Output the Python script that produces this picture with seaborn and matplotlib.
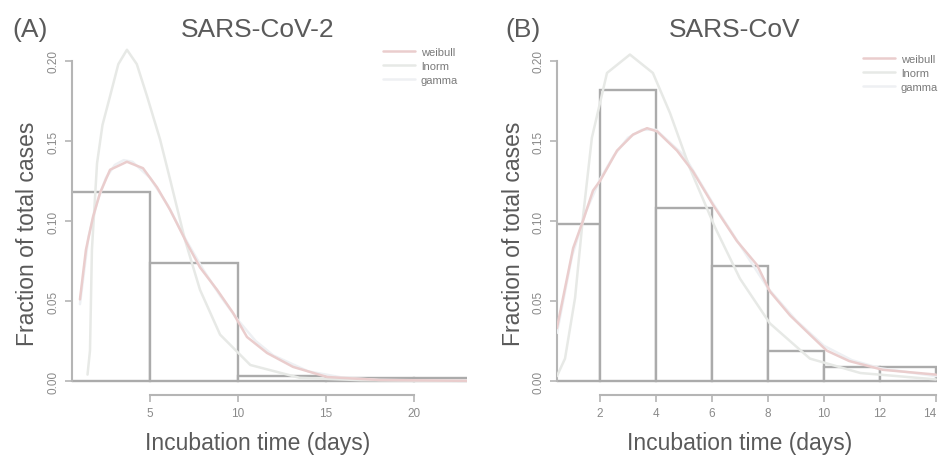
import matplotlib
matplotlib.use("Agg")
import matplotlib.pyplot as plt
from matplotlib.lines import Line2D
import matplotlib.transforms as mtransforms
import seaborn as sns

# ---------------- data ----------------
# Panel A (SARS-CoV-2): histogram (density, bin width 5 days)
a_edges = [0, 5, 10, 15, 20, 25]
a_heights = [0.118, 0.074, 0.003, 0.002, 0.002]
# fitted curves (days, density)
a_weibull_x = [1.02, 1.36, 1.76, 2.16, 2.73, 3.69, 4.60, 5.40, 6.14, 7.10, 7.84, 8.81, 9.72, 10.51, 11.65, 13.13, 15.06, 18.07, 23.0]
a_weibull_y = [0.051, 0.082, 0.1025, 0.1175, 0.132, 0.137, 0.133, 0.121, 0.107, 0.086, 0.071, 0.057, 0.0425, 0.0275, 0.0175, 0.0088, 0.0025, 0.0006, 0.0001]
a_lnorm_x = [1.45, 1.59, 1.70, 1.99, 2.30, 2.73, 3.20, 3.69, 4.25, 4.83, 5.57, 6.14, 6.99, 7.84, 8.98, 10.7, 13.5, 17.0, 23.0]
a_lnorm_y = [0.004, 0.019, 0.082, 0.136, 0.160, 0.178, 0.198, 0.207, 0.198, 0.178, 0.151, 0.126, 0.088, 0.057, 0.029, 0.010, 0.002, 0.0005, 0.0001]
a_gamma_x = [1.02, 1.5, 2.0, 2.5, 3.0, 3.5, 4.0, 5.0, 6.0, 7.0, 8.0, 9.0, 10.0, 11.0, 12.0, 14.0, 16.0, 18.0, 23.0]
a_gamma_y = [0.048, 0.090, 0.112, 0.127, 0.135, 0.138, 0.137, 0.127, 0.110, 0.089, 0.070, 0.053, 0.038, 0.025, 0.016, 0.006, 0.002, 0.0007, 0.0001]

# Panel B (SARS-CoV): histogram (density, bin width 2 days)
b_edges = [0, 2, 4, 6, 8, 10, 12, 14]
b_heights = [0.098, 0.182, 0.108, 0.072, 0.019, 0.0085, 0.0085]
b_weibull_x = [0.46, 1.04, 1.39, 1.75, 2.0, 2.61, 3.18, 3.68, 4.04, 4.75, 5.32, 6.04, 6.89, 7.61, 8.07, 8.79, 9.5, 10.1, 10.9, 12.1, 14.0]
b_weibull_y = [0.033, 0.083, 0.100, 0.119, 0.125, 0.144, 0.154, 0.158, 0.156, 0.144, 0.131, 0.110, 0.0875, 0.0725, 0.056, 0.041, 0.029, 0.019, 0.0125, 0.007, 0.004]
b_lnorm_x = [0.46, 0.75, 1.11, 1.39, 1.71, 2.25, 3.07, 3.89, 4.5, 5.21, 6.11, 7.0, 8.07, 9.5, 11.3, 14.0]
b_lnorm_y = [0.003, 0.014, 0.052, 0.102, 0.152, 0.1925, 0.204, 0.1925, 0.1675, 0.133, 0.096, 0.064, 0.036, 0.014, 0.005, 0.001]
b_gamma_x = [0.46, 1.0, 1.5, 2.0, 2.5, 3.0, 3.5, 4.0, 5.0, 6.0, 7.0, 8.0, 9.0, 10.0, 11.0, 12.0, 14.0]
b_gamma_y = [0.030, 0.078, 0.106, 0.126, 0.141, 0.152, 0.157, 0.157, 0.141, 0.112, 0.085, 0.058, 0.038, 0.022, 0.013, 0.008, 0.003]

dist_labels = ["weibull", "lnorm", "gamma"]
titles = ["SARS-CoV-2", "SARS-CoV"]
panel_tags = ["(A)", "(B)"]
a_xticks = [5, 10, 15, 20]
b_xticks = [2, 4, 6, 8, 10, 12, 14]
yticks = [0.00, 0.05, 0.10, 0.15, 0.20]
ytick_labels = ["0.00", "0.05", "0.10", "0.15", "0.20"]
xlabel = "Incubation time (days)"
ylabel = "Fraction of total cases"

# ---------------- style ----------------
sns.set_style("white")
plt.rcParams["font.family"] = ["Liberation Sans", "DejaVu Sans"]

W, H = 940, 456
fig = plt.figure(figsize=(W / 100, H / 100), dpi=100)

curve_colors = ["#eacdcd", "#e7e9e6", "#eef0f3"]
edge_col = "#ababab"
axis_col = "#b5b5b5"
text_col = "#5a5a5a"
tick_text_col = "#8a8a8a"


def fx(px):
    return px / W


def fy(py):
    return 1 - py / H


panels = [
    dict(left=72, right=467, xlim=(0.568, 23.01), edges=a_edges, heights=a_heights,
         curves=[(a_weibull_x, a_weibull_y), (a_lnorm_x, a_lnorm_y), (a_gamma_x, a_gamma_y)],
         xticks=a_xticks, title_x=258, tag_x=30, xlabel_x=258, ylabel_x=28,
         leg=(383, 48)),
    dict(left=557, right=937, xlim=(0.464, 14.04), edges=b_edges, heights=b_heights,
         curves=[(b_weibull_x, b_weibull_y), (b_lnorm_x, b_lnorm_y), (b_gamma_x, b_gamma_y)],
         xticks=b_xticks, title_x=735, tag_x=523, xlabel_x=740, ylabel_x=514,
         leg=(863, 55)),
]

top_px, bot_px = 49, 396
ylim = (-0.00875, 0.2081)

for i, p in enumerate(panels):
    ax = fig.add_axes([fx(p["left"]), fy(bot_px), (p["right"] - p["left"]) / W, (bot_px - top_px) / H])
    edges = p["edges"]
    mids = [(edges[k] + edges[k + 1]) / 2 for k in range(len(edges) - 1)]
    sns.histplot(x=mids, weights=p["heights"], bins=edges, stat="count", ax=ax,
                 color="white", edgecolor=edge_col, linewidth=1.7, alpha=1.0,
                 legend=False, zorder=1)
    # gamma first (faintest), then lnorm, then weibull on top
    order = [2, 1, 0]
    for k in order:
        cx, cy = p["curves"][k]
        sns.lineplot(x=cx, y=cy, ax=ax, color=curve_colors[k], linewidth=1.8, sort=False,
                     estimator=None, zorder=3)
    ax.set_xlim(*p["xlim"])
    ax.set_ylim(*ylim)
    ax.set_xlabel("")
    ax.set_ylabel("")
    ax.set_xticks(p["xticks"])
    ax.set_xticklabels([str(t) for t in p["xticks"]])
    ax.set_yticks(yticks)
    ax.set_yticklabels(ytick_labels, rotation=90, va="center")
    for s in ["top", "right"]:
        ax.spines[s].set_visible(False)
    ax.spines["left"].set_bounds(0, 0.2)
    ax.spines["bottom"].set_bounds(p["xticks"][0], p["xticks"][-1])
    for s in ["left", "bottom"]:
        ax.spines[s].set_color(axis_col)
        ax.spines[s].set_linewidth(1.5)
    ax.tick_params(axis="both", direction="out", length=5, width=1.2, color=axis_col,
                   labelsize=8.5, labelcolor=tick_text_col, pad=4,
                   bottom=True, left=True)
    ax.patch.set_alpha(0)

    if i == 1:
        # nudge the last tick label so it stays inside the figure
        last = ax.get_xticklabels()[-1]
        last.set_transform(last.get_transform() +
                           mtransforms.ScaledTranslation(-6 / 100, 0, fig.dpi_scale_trans))

    handles = [Line2D([0], [0], color=c, lw=1.8) for c in curve_colors]
    leg = ax.legend(handles, dist_labels, loc="upper left",
                    bbox_to_anchor=(fx(p["leg"][0]), fy(p["leg"][1])),
                    bbox_transform=fig.transFigure, frameon=False, fontsize=8,
                    handlelength=2.9, handletextpad=0.5, labelspacing=0.35,
                    borderpad=0, borderaxespad=0)
    for t in leg.get_texts():
        t.set_color("#7a7a7a")

    fig.text(fx(p["title_x"]), fy(30), titles[i], ha="center", va="center",
             fontsize=19, color=text_col)
    fig.text(fx(p["tag_x"]), fy(30), panel_tags[i], ha="center", va="center",
             fontsize=19, color=text_col)
    fig.text(fx(p["xlabel_x"]), fy(444), xlabel, ha="center", va="center",
             fontsize=16.5, color=text_col)
    fig.text(fx(p["ylabel_x"]), fy(234), ylabel, ha="center", va="center",
             rotation=90, fontsize=16.5, color=text_col)

fig.savefig("out.png", dpi=100, facecolor="white")
